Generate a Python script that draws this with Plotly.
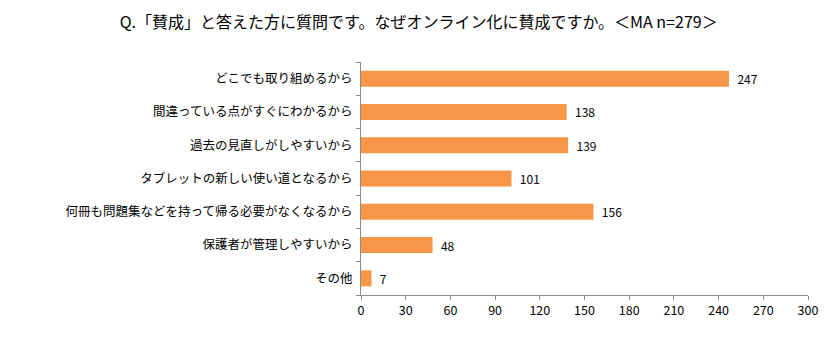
import plotly.graph_objects as go

categories = [
    "どこでも取り組めるから",
    "間違っている点がすぐにわかるから",
    "過去の見直しがしやすいから",
    "タブレットの新しい使い道となるから",
    "何冊も問題集などを持って帰る必要がなくなるから",
    "保護者が管理しやすいから",
    "その他",
]
values = [247, 138, 139, 101, 156, 48, 7]
x_ticks = [0, 30, 60, 90, 120, 150, 180, 210, 240, 270, 300]

FONT = "Noto Sans CJK JP, Liberation Sans, Arial, sans-serif"

fig = go.Figure(
    go.Bar(
        x=values,
        y=categories,
        orientation="h",
        marker=dict(color="#F79646", line=dict(width=0)),
        width=0.48,
        text=["  " + str(v) for v in values],
        textposition="outside",
        constraintext="none",
        textfont=dict(size=12, color="#000000", family=FONT),
        cliponaxis=False,
    )
)

fig.update_layout(
    width=834,
    height=339,
    margin=dict(l=361, r=26, t=62, b=44),
    paper_bgcolor="white",
    plot_bgcolor="white",
    showlegend=False,
    font=dict(family=FONT, color="#000000"),
    title=dict(
        text="Q.「賛成」と答えた方に質問です。なぜオンライン化に賛成ですか。＜MA n=279＞",
        x=0.502,
        xanchor="center",
        y=0.935,
        yanchor="middle",
        font=dict(size=16, color="#000000", family=FONT),
    ),
)

fig.update_xaxes(
    range=[0, 300],
    tickvals=x_ticks,
    ticktext=[str(t) for t in x_ticks],
    showgrid=False,
    zeroline=False,
    showline=True,
    linecolor="#8c8c8c",
    linewidth=1,
    ticks="outside",
    ticklen=4,
    tickcolor="#8c8c8c",
    tickfont=dict(size=12.5, color="#000000"),
    fixedrange=True,
)

fig.update_yaxes(
    categoryorder="array",
    categoryarray=categories[::-1],
    autorange=False,
    range=[-0.5, len(categories) - 0.5],
    showgrid=False,
    zeroline=False,
    showline=True,
    linecolor="#8c8c8c",
    linewidth=1,
    ticks="outside",
    tickson="boundaries",
    ticklen=4,
    tickcolor="#8c8c8c",
    tickfont=dict(size=12.5, color="#000000"),
    ticklabelstandoff=5,
    fixedrange=True,
)

fig.write_html("out.html")
